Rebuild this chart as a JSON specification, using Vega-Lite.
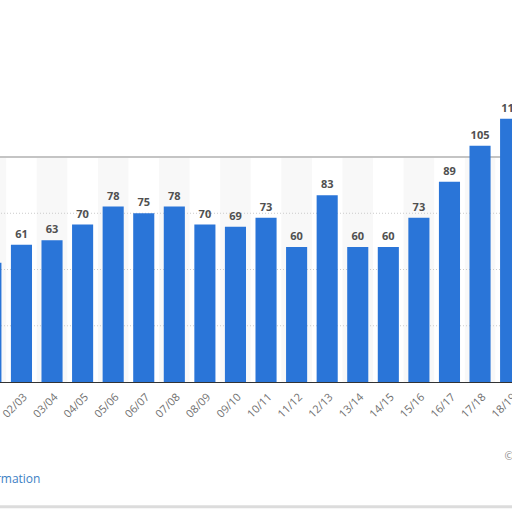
{
  "$schema": "https://vega.github.io/schema/vega-lite/v6.json",
  "width": 512,
  "height": 382,
  "autosize": "none",
  "padding": {"left": 0, "top": 0, "right": 0, "bottom": 130},
  "background": "white",
  "config": {
    "view": {"stroke": null},
    "font": "Open Sans"
  },
  "datasets": {
    "seasons": [
      {"season": "01/02", "value": 53},
      {"season": "02/03", "value": 61},
      {"season": "03/04", "value": 63},
      {"season": "04/05", "value": 70},
      {"season": "05/06", "value": 78},
      {"season": "06/07", "value": 75},
      {"season": "07/08", "value": 78},
      {"season": "08/09", "value": 70},
      {"season": "09/10", "value": 69},
      {"season": "10/11", "value": 73},
      {"season": "11/12", "value": 60},
      {"season": "12/13", "value": 83},
      {"season": "13/14", "value": 60},
      {"season": "14/15", "value": 60},
      {"season": "15/16", "value": 73},
      {"season": "16/17", "value": 89},
      {"season": "17/18", "value": 105},
      {"season": "18/19", "value": 117}
    ],
    "stripes": [
      {"season": "01/02"}, {"season": "03/04"}, {"season": "05/06"},
      {"season": "07/08"}, {"season": "09/10"}, {"season": "11/12"},
      {"season": "13/14"}, {"season": "15/16"}, {"season": "17/18"}
    ],
    "grid": [{"v": 25}, {"v": 50}, {"v": 75}]
  },
  "layer": [
    {
      "data": {"name": "stripes"},
      "mark": {"type": "bar", "color": "#f8f8f8", "width": {"band": 1.449}, "clip": true},
      "encoding": {
        "x": {
          "field": "season",
          "type": "nominal",
          "sort": null,
          "scale": {
            "domain": ["01/02", "02/03", "03/04", "04/05", "05/06", "06/07", "07/08", "08/09", "09/10", "10/11", "11/12", "12/13", "13/14", "14/15", "15/16", "16/17", "17/18", "18/19"],
            "range": [-24.4, 525.9],
            "paddingInner": 0.31,
            "paddingOuter": 0.155
          },
          "axis": {
            "title": null,
            "labelAngle": -45,
            "labelColor": "#707070",
            "labelFontSize": 11,
            "labelPadding": 9,
            "ticks": false,
            "domainColor": "#333333",
            "domainWidth": 1.2,
            "grid": false
          }
        },
        "y": {"datum": 100, "type": "quantitative", "scale": {"domain": [0, 169.8], "nice": false, "zero": true}, "axis": null},
        "y2": {"datum": 0}
      }
    },
    {
      "data": {"name": "grid"},
      "mark": {"type": "rule", "color": "#cccccc", "strokeDash": [1, 2], "strokeWidth": 1},
      "encoding": {
        "y": {"field": "v", "type": "quantitative"}
      }
    },
    {
      "data": {"values": [{}]},
      "mark": {"type": "rule", "color": "#c4c4c4", "strokeWidth": 2},
      "encoding": {
        "y": {"datum": 100, "type": "quantitative"}
      }
    },
    {
      "data": {"values": [{}]},
      "mark": {"type": "rule", "color": "#dcdcdc", "strokeWidth": 3, "clip": false},
      "encoding": {
        "y": {"datum": -55.4, "type": "quantitative"}
      }
    },
    {
      "data": {"name": "seasons"},
      "mark": {"type": "bar", "color": "#2a75d8", "clip": true},
      "encoding": {
        "x": {"field": "season", "type": "nominal", "sort": null},
        "y": {"field": "value", "type": "quantitative"}
      }
    },
    {
      "data": {"name": "seasons"},
      "mark": {"type": "text", "baseline": "bottom", "dy": -5, "fontWeight": "bold", "fontSize": 11, "color": "#505050"},
      "encoding": {
        "x": {"field": "season", "type": "nominal", "sort": null},
        "y": {"field": "value", "type": "quantitative"},
        "text": {"field": "value", "type": "quantitative"}
      }
    },
    {
      "data": {"values": [{}]},
      "mark": {"type": "text", "text": "Additional Information", "align": "right", "baseline": "middle", "dx": 19, "fontSize": 12, "color": "#3d7fc4", "clip": false},
      "encoding": {
        "x": {"datum": "02/03", "type": "nominal"},
        "y": {"datum": -43.1, "type": "quantitative"}
      }
    },
    {
      "data": {"values": [{}]},
      "mark": {"type": "text", "text": "© Statista", "align": "left", "baseline": "middle", "dx": -6, "fontSize": 11, "color": "#8a8a8a", "clip": false},
      "encoding": {
        "x": {"datum": "18/19", "type": "nominal"},
        "y": {"datum": -33.3, "type": "quantitative"}
      }
    }
  ]
}
